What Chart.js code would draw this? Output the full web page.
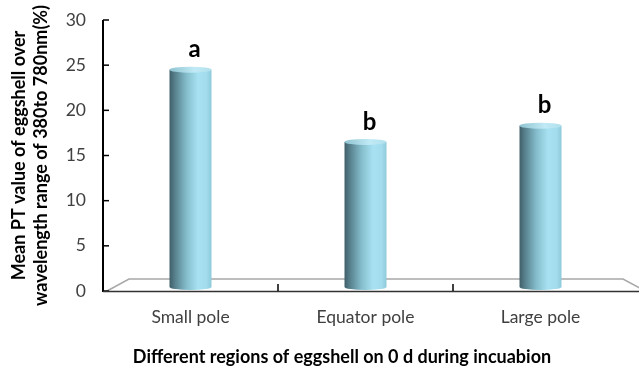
<!DOCTYPE html>
<html><head><meta charset="utf-8">
<script src="https://cdn.jsdelivr.net/npm/chart.js@4"></script>
<style>html,body{margin:0;padding:0;background:#fff}#wrap{width:639px;height:367px}</style>
</head><body><div id="wrap"><canvas id="c" width="639" height="367"></canvas></div>
<script>
const categories = ['Small pole', 'Equator pole', 'Large pole'];
const ptValues = [24.5, 16.5, 18.3];
const significance = ['a', 'b', 'b'];
const yTickValues = [0, 5, 10, 15, 20, 25, 30];
const yTitleLines = ['Mean PT value of eggshell over', 'wavelength range of 380to 780nm(%)'];
const xTitle = 'Different regions of eggshell on 0 d during incuabion';

const FONT = 'Lato, "Open Sans", sans-serif';

const cylinderPlugin = {
  id: 'cylinder',
  beforeDatasetsDraw(chart) {
    const ctx = chart.ctx, a = chart.chartArea;
    ctx.save();
    ctx.strokeStyle = '#a8a8a8';
    ctx.lineWidth = 1.5;
    ctx.beginPath();
    ctx.moveTo(a.left + 4, a.bottom);
    ctx.lineTo(a.left + 26, a.bottom - 12);
    ctx.lineTo(a.right - 5, a.bottom - 12);
    ctx.lineTo(a.right + 17, a.bottom);
    ctx.stroke();
    ctx.restore();
  },
  afterDatasetsDraw(chart) {
    const ctx = chart.ctx;
    const meta = chart.getDatasetMeta(0);
    ctx.save();
    meta.data.forEach((el, i) => {
      const {x, y, base, width} = el.getProps(['x', 'y', 'base', 'width'], true);
      const l = x - width / 2, r = x + width / 2;
      const g = ctx.createLinearGradient(l, 0, r, 0);
      g.addColorStop(0, '#3f5f68');
      g.addColorStop(0.12, '#557e8a');
      g.addColorStop(0.4, '#84bccb');
      g.addColorStop(0.68, '#a8e2f2');
      g.addColorStop(0.88, '#a2dced');
      g.addColorStop(1, '#8fcadb');
      const ry = 3;
      const bottom = base - 4;
      ctx.fillStyle = g;
      ctx.beginPath();
      ctx.moveTo(l, y);
      ctx.lineTo(l, bottom);
      ctx.ellipse(x, bottom, width / 2, ry, 0, Math.PI, 0, true);
      ctx.lineTo(r, y);
      ctx.closePath();
      ctx.fill();
      const g2 = ctx.createLinearGradient(l, 0, r, 0);
      g2.addColorStop(0, '#8fc3d1');
      g2.addColorStop(0.6, '#c0eaf5');
      g2.addColorStop(1, '#b0e0ec');
      ctx.fillStyle = g2;
      ctx.beginPath();
      ctx.ellipse(x, y, width / 2, ry, 0, 0, Math.PI * 2);
      ctx.fill();
      ctx.fillStyle = '#000';
      ctx.font = 'bold 24px ' + FONT;
      ctx.textAlign = 'center';
      ctx.textBaseline = 'middle';
      ctx.fillText(significance[i], x + 4, y - 20);
    });
    ctx.restore();
  },
  afterDraw(chart) {
    const ctx = chart.ctx, a = chart.chartArea, xs = chart.scales.x, ys = chart.scales.y;
    ctx.save();
    ctx.strokeStyle = '#000';
    ctx.lineWidth = 2;
    ctx.beginPath();
    ctx.moveTo(a.left, a.top);
    ctx.lineTo(a.left, a.bottom + 1);
    ctx.stroke();
    ctx.lineWidth = 1.5;
    yTickValues.forEach(v => {
      const py = ys.getPixelForValue(v);
      ctx.beginPath();
      ctx.moveTo(a.left, py);
      ctx.lineTo(a.left + 6, py);
      ctx.stroke();
    });
    ctx.strokeStyle = '#333';
    ctx.lineWidth = 1.5;
    ctx.beginPath();
    ctx.moveTo(a.left, a.bottom + 0.5);
    ctx.lineTo(chart.width, a.bottom + 0.5);
    ctx.stroke();
    ctx.strokeStyle = '#000';
    for (let i = 0; i < categories.length - 1; i++) {
      const px = (xs.getPixelForValue(i) + xs.getPixelForValue(i + 1)) / 2;
      ctx.beginPath();
      ctx.moveTo(px, a.bottom);
      ctx.lineTo(px, a.bottom - 7);
      ctx.stroke();
    }
    ctx.fillStyle = '#000';
    ctx.font = 'bold 18px ' + FONT;
    ctx.textAlign = 'center';
    ctx.textBaseline = 'middle';
    ctx.fillText(xTitle, a.left + 239, a.bottom + 66);
    ctx.restore();
  }
};

new Chart(document.getElementById('c'), {
  type: 'bar',
  data: {
    labels: categories,
    datasets: [{
      data: ptValues,
      backgroundColor: 'rgba(0,0,0,0)',
      borderWidth: 0,
      categoryPercentage: 1,
      barPercentage: 0.24
    }]
  },
  plugins: [cylinderPlugin],
  options: {
    responsive: false,
    devicePixelRatio: 1,
    animation: false,
    layout: {padding: {left: 0, right: 11, top: 20, bottom: 0}},
    plugins: {legend: {display: false}, tooltip: {enabled: false}},
    scales: {
      x: {
        grid: {display: false, drawTicks: false},
        border: {display: false},
        ticks: {font: {family: FONT, size: 17.5}, color: '#404040', padding: 16},
        afterFit(s) { s.height = 76; }
      },
      y: {
        min: 0, max: 30,
        grid: {display: false, drawTicks: false},
        border: {display: false},
        ticks: {stepSize: 5, font: {family: FONT, size: 17.5}, color: '#404040', padding: 17,
          callback: (v) => yTickValues.includes(v) ? String(v) : null},
        title: {display: true, text: yTitleLines, font: {family: FONT, size: 18, weight: 'bold', lineHeight: 1.222}, color: '#000', padding: {top: 8, bottom: 0}},
        afterFit(s) { s.width = 103; s.paddingTop = 0; s.paddingBottom = 0; }
      }
    }
  }
});
</script></body></html>
